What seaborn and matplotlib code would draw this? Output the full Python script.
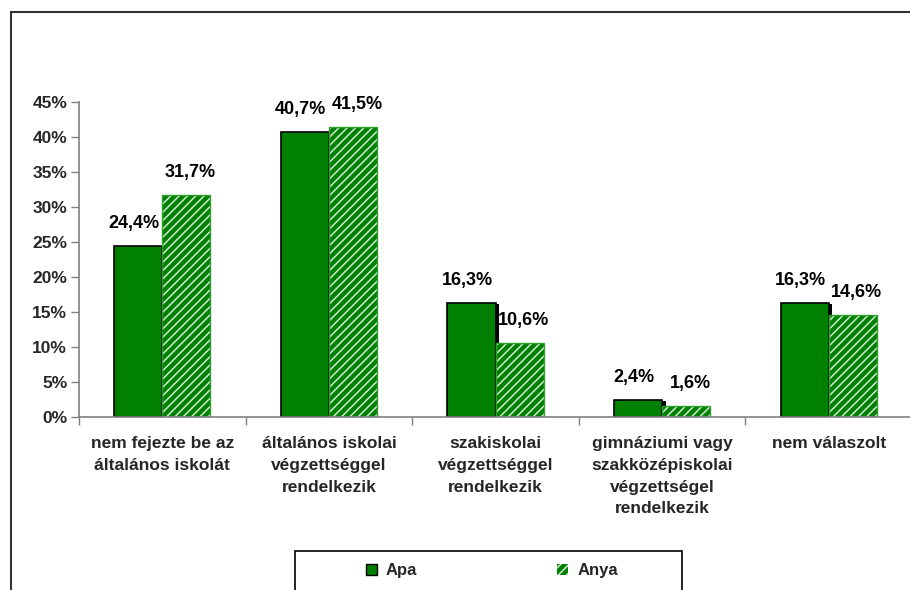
import matplotlib
matplotlib.use("Agg")
import matplotlib.pyplot as plt
import matplotlib.patheffects as pe
from matplotlib.patches import Rectangle, Patch
import seaborn as sns
import pandas as pd

categories = [
    "nem fejezte be az\náltalános iskolát",
    "általános iskolai\nvégzettséggel\nrendelkezik",
    "szakiskolai\nvégzettséggel\nrendelkezik",
    "gimnáziumi vagy\nszakközépiskolai\nvégzettségel\nrendelkezik",
    "nem válaszolt",
]
apa = [24.4, 40.7, 16.3, 2.4, 16.3]
anya = [31.7, 41.5, 10.6, 1.6, 14.6]
series = ["Apa", "Anya"]
yticks = [0, 5, 10, 15, 20, 25, 30, 35, 40, 45]

GREEN = "#008000"
LIGHTGREEN = "#2ea02e"
HATCH = "#cfeccf"

df = pd.DataFrame({
    "cat": categories * 2,
    "val": apa + anya,
    "ser": [series[0]] * len(apa) + [series[1]] * len(anya),
})

sns.set_theme(style="white")
plt.rcParams["font.family"] = ["Liberation Sans", "DejaVu Sans"]
plt.rcParams["hatch.linewidth"] = 1.1

fig = plt.figure(figsize=(9.1, 5.9), dpi=100)
W, H = 910, 590
ax = fig.add_axes([79 / W, 1 - 417 / H, (912 - 79) / W, (417 - 102) / H])

sns.barplot(data=df, x="cat", y="val", hue="ser", order=categories,
            hue_order=series, palette=[GREEN, GREEN], width=0.577,
            saturation=1, legend=False, ax=ax, errorbar=None)

n = len(categories)
apa_bars = ax.patches[:n]
anya_bars = ax.patches[n:2 * n]
for p in apa_bars:
    p.set_edgecolor("black")
    p.set_linewidth(1.2)
    p.set_path_effects([pe.SimplePatchShadow(offset=(2.5, -0.8), shadow_rgbFace="black", alpha=1.0),
                        pe.Normal()])
for p in anya_bars:
    p.set_facecolor(GREEN)
    p.set_edgecolor(HATCH)
    p.set_hatch("////")
    p.set_linewidth(0)
    ax.add_patch(Rectangle(p.get_xy(), p.get_width(), p.get_height(),
                           fill=False, edgecolor=LIGHTGREEN, linewidth=1.0, zorder=p.get_zorder() + 0.1))

for bars, vals, dx in ((apa_bars, apa, -4), (anya_bars, anya, 4)):
    for p, v in zip(bars, vals):
        ax.annotate(f"{v:.1f}%".replace(".", ","),
                    (p.get_x() + p.get_width() / 2, p.get_height()),
                    xytext=(dx * 0.72, 10), textcoords="offset points",
                    ha="center", va="bottom", fontsize=13, fontweight="bold", color="black")

ax.set_ylim(0, 45)
ax.set_xlim(-0.5, n - 0.5)
ax.set_yticks(yticks)
ax.set_yticklabels([f"{t}%" for t in yticks], fontsize=12.5, fontweight="bold")
ax.set_xticks(range(n))
ax.set_xticklabels(categories, fontsize=12.5, fontweight="bold", linespacing=1.55, va="top")
ax.tick_params(axis="x", length=0, pad=14)
ax.tick_params(axis="y", length=6, width=1, color="#808080", direction="out", left=True, pad=2.5)
# category separator ticks on x axis
ax.set_xticks([i - 0.5 for i in range(n + 1)], minor=True)
ax.tick_params(axis="x", which="minor", length=6, width=1, color="#808080", direction="out", bottom=True)
ax.set_xlabel("")
ax.set_ylabel("")
for s in ["top", "right"]:
    ax.spines[s].set_visible(False)
for s in ["left", "bottom"]:
    ax.spines[s].set_color("#808080")
    ax.spines[s].set_linewidth(1.2)

# outer chart frame
fig.patches.append(Rectangle((11 / W, -0.05), 1.2, 1 - 12 / H + 0.05, transform=fig.transFigure,
                             fill=False, edgecolor="#333333", linewidth=1.5, zorder=0))

# legend
handles = [Patch(facecolor=GREEN, edgecolor="black", linewidth=1),
           Patch(facecolor=GREEN, edgecolor=HATCH, hatch="////", linewidth=0)]
leg = fig.legend(handles, series, loc="center", bbox_to_anchor=(492 / W, 1 - 571 / H),
                 ncol=2, frameon=False, handlelength=0.66, handleheight=0.66,
                 handletextpad=0.54, columnspacing=8.4,
                 prop={"weight": "bold", "size": 12})
fig.patches.append(Rectangle((295 / W, -0.05), (682 - 295) / W, (1 - 551 / H) + 0.05,
                             transform=fig.transFigure, fill=False, edgecolor="black", linewidth=1.2))

fig.savefig("out.png", dpi=100)
